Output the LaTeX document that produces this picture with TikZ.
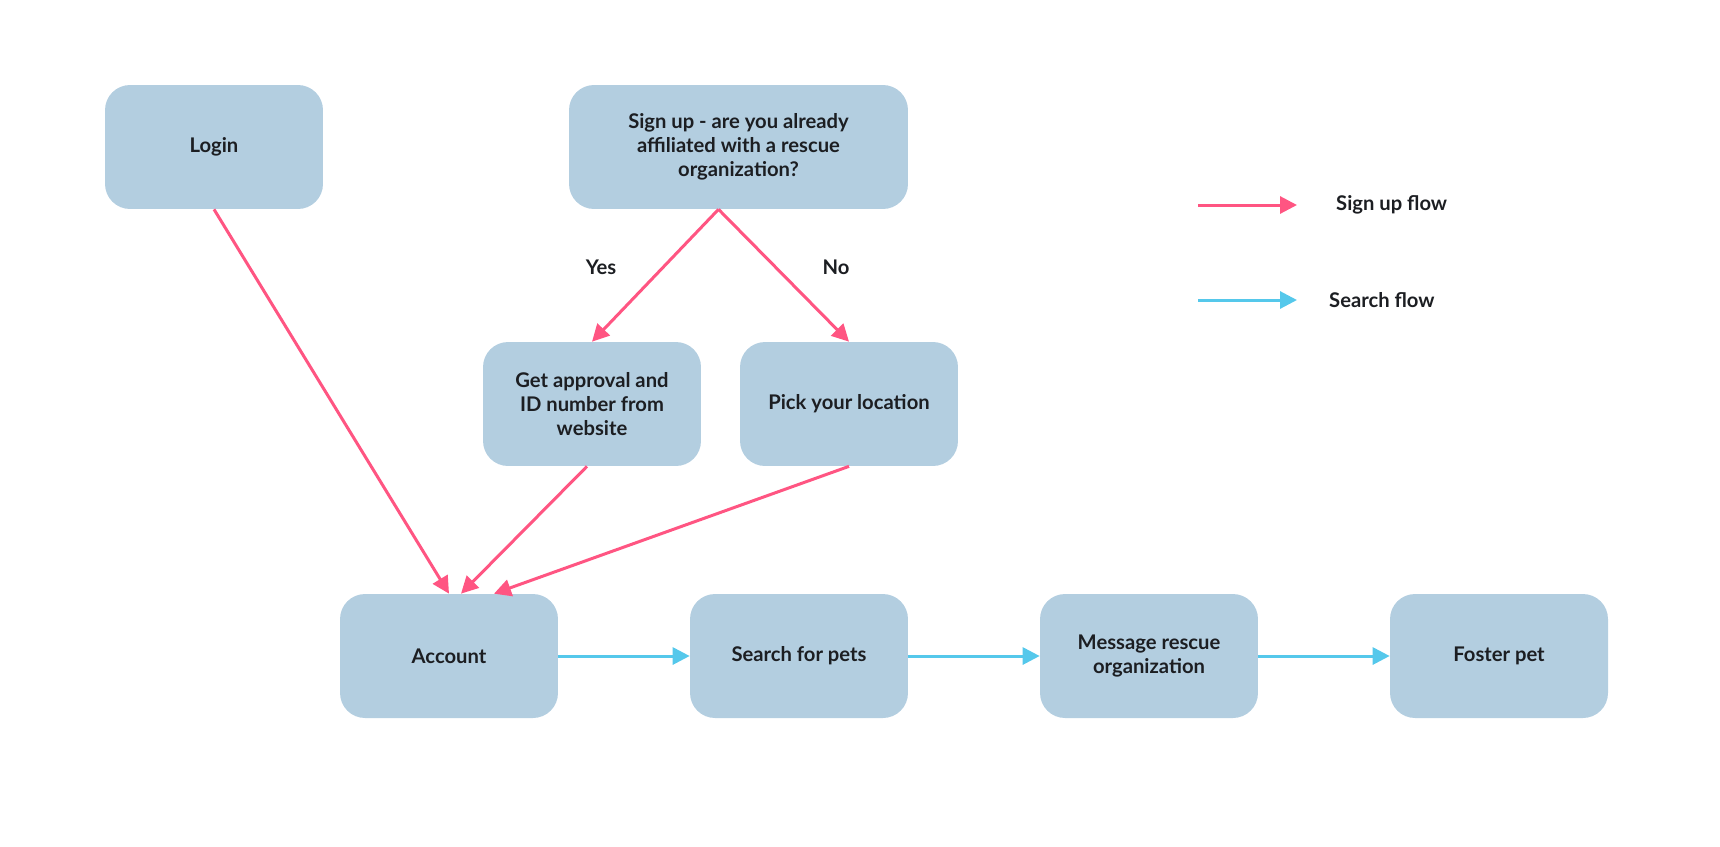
\documentclass[tikz,border=0pt]{standalone}
\usepackage{fontspec}
\setmainfont{Lato}
\usepackage{xcolor}
\definecolor{Box}{RGB}{179,206,224}
\definecolor{Pink}{RGB}{255,85,130}
\definecolor{Sky}{RGB}{85,200,235}
\definecolor{Ink}{RGB}{28,30,34}
\usetikzlibrary{arrows.meta}

\begin{document}
\begin{tikzpicture}[x=0.02cm, y=-0.02cm,
		block/.style={fill=Box, draw=none, rounded corners=0.5cm, minimum width=4.36cm, minimum height=2.48cm, align=center, text=Ink, font=\bfseries\fontsize{11.5}{13.7}\selectfont, inner sep=2pt},
		label/.style={text=Ink, font=\bfseries\fontsize{11.5}{13.7}\selectfont},
		signup/.style={-{Triangle[length=0.34cm, width=0.34cm]}, draw=Pink, line width=0.06cm},
		search/.style={-{Triangle[length=0.34cm, width=0.34cm]}, draw=Sky, line width=0.06cm}]
		
		\useasboundingbox (0,0) rectangle (1720,846);
		
		% Blocks
		\node[block] (login) at (214,147) {Login};
		\node[block, minimum width=6.78cm] (ask) at (738.5,147) {Sign up - are you already\\affiliated with a rescue\\organization?};
		\node[block] (approval) at (592,404) {Get approval and\\ID number from\\website};
		\node[block] (location) at (849,404) {Pick your location};
		\node[block] (account) at (449,656) {Account};
		\node[block] (pets) at (799,656) {Search for pets};
		\node[block] (message) at (1149,656) {Message rescue\\organization};
		\node[block] (foster) at (1499,656) {Foster pet};
		
		% Sign up flow
		\draw[signup] ([xshift=-0.4cm]ask.south) -- (approval.north);
		\draw[signup] ([xshift=-0.4cm]ask.south) -- (location.north);
		\draw[signup] (login.south) -- (account.north);
		\draw[signup] ([xshift=-0.1cm]approval.south) -- ([xshift=0.24cm]account.north);
		\draw[signup] (location.south) -- ([xshift=0.9cm]account.north);
		
		\node[label] (yes) at (601,267) {Yes};
		\node[label] (no) at (836,267) {No};
		
		% Search flow
		\draw[search] (account.east) -- (pets.west);
		\draw[search] (pets.east) -- (message.west);
		\draw[search] (message.east) -- (foster.west);
		
		% Legend
		\coordinate (pinkstart) at (1198,205);
		\coordinate (pinkend) at (1297,205);
		\coordinate (skystart) at (1198,300);
		\coordinate (skyend) at (1297,300);
		\draw[signup] (pinkstart) -- (pinkend);
		\draw[search] (skystart) -- (skyend);
		\node[label, anchor=west] (pinktext) at (1330,205) {Sign up flow};
		\node[label, anchor=west] (skytext) at (1323,300) {Search flow};
		
	\end{tikzpicture}
\end{document}
